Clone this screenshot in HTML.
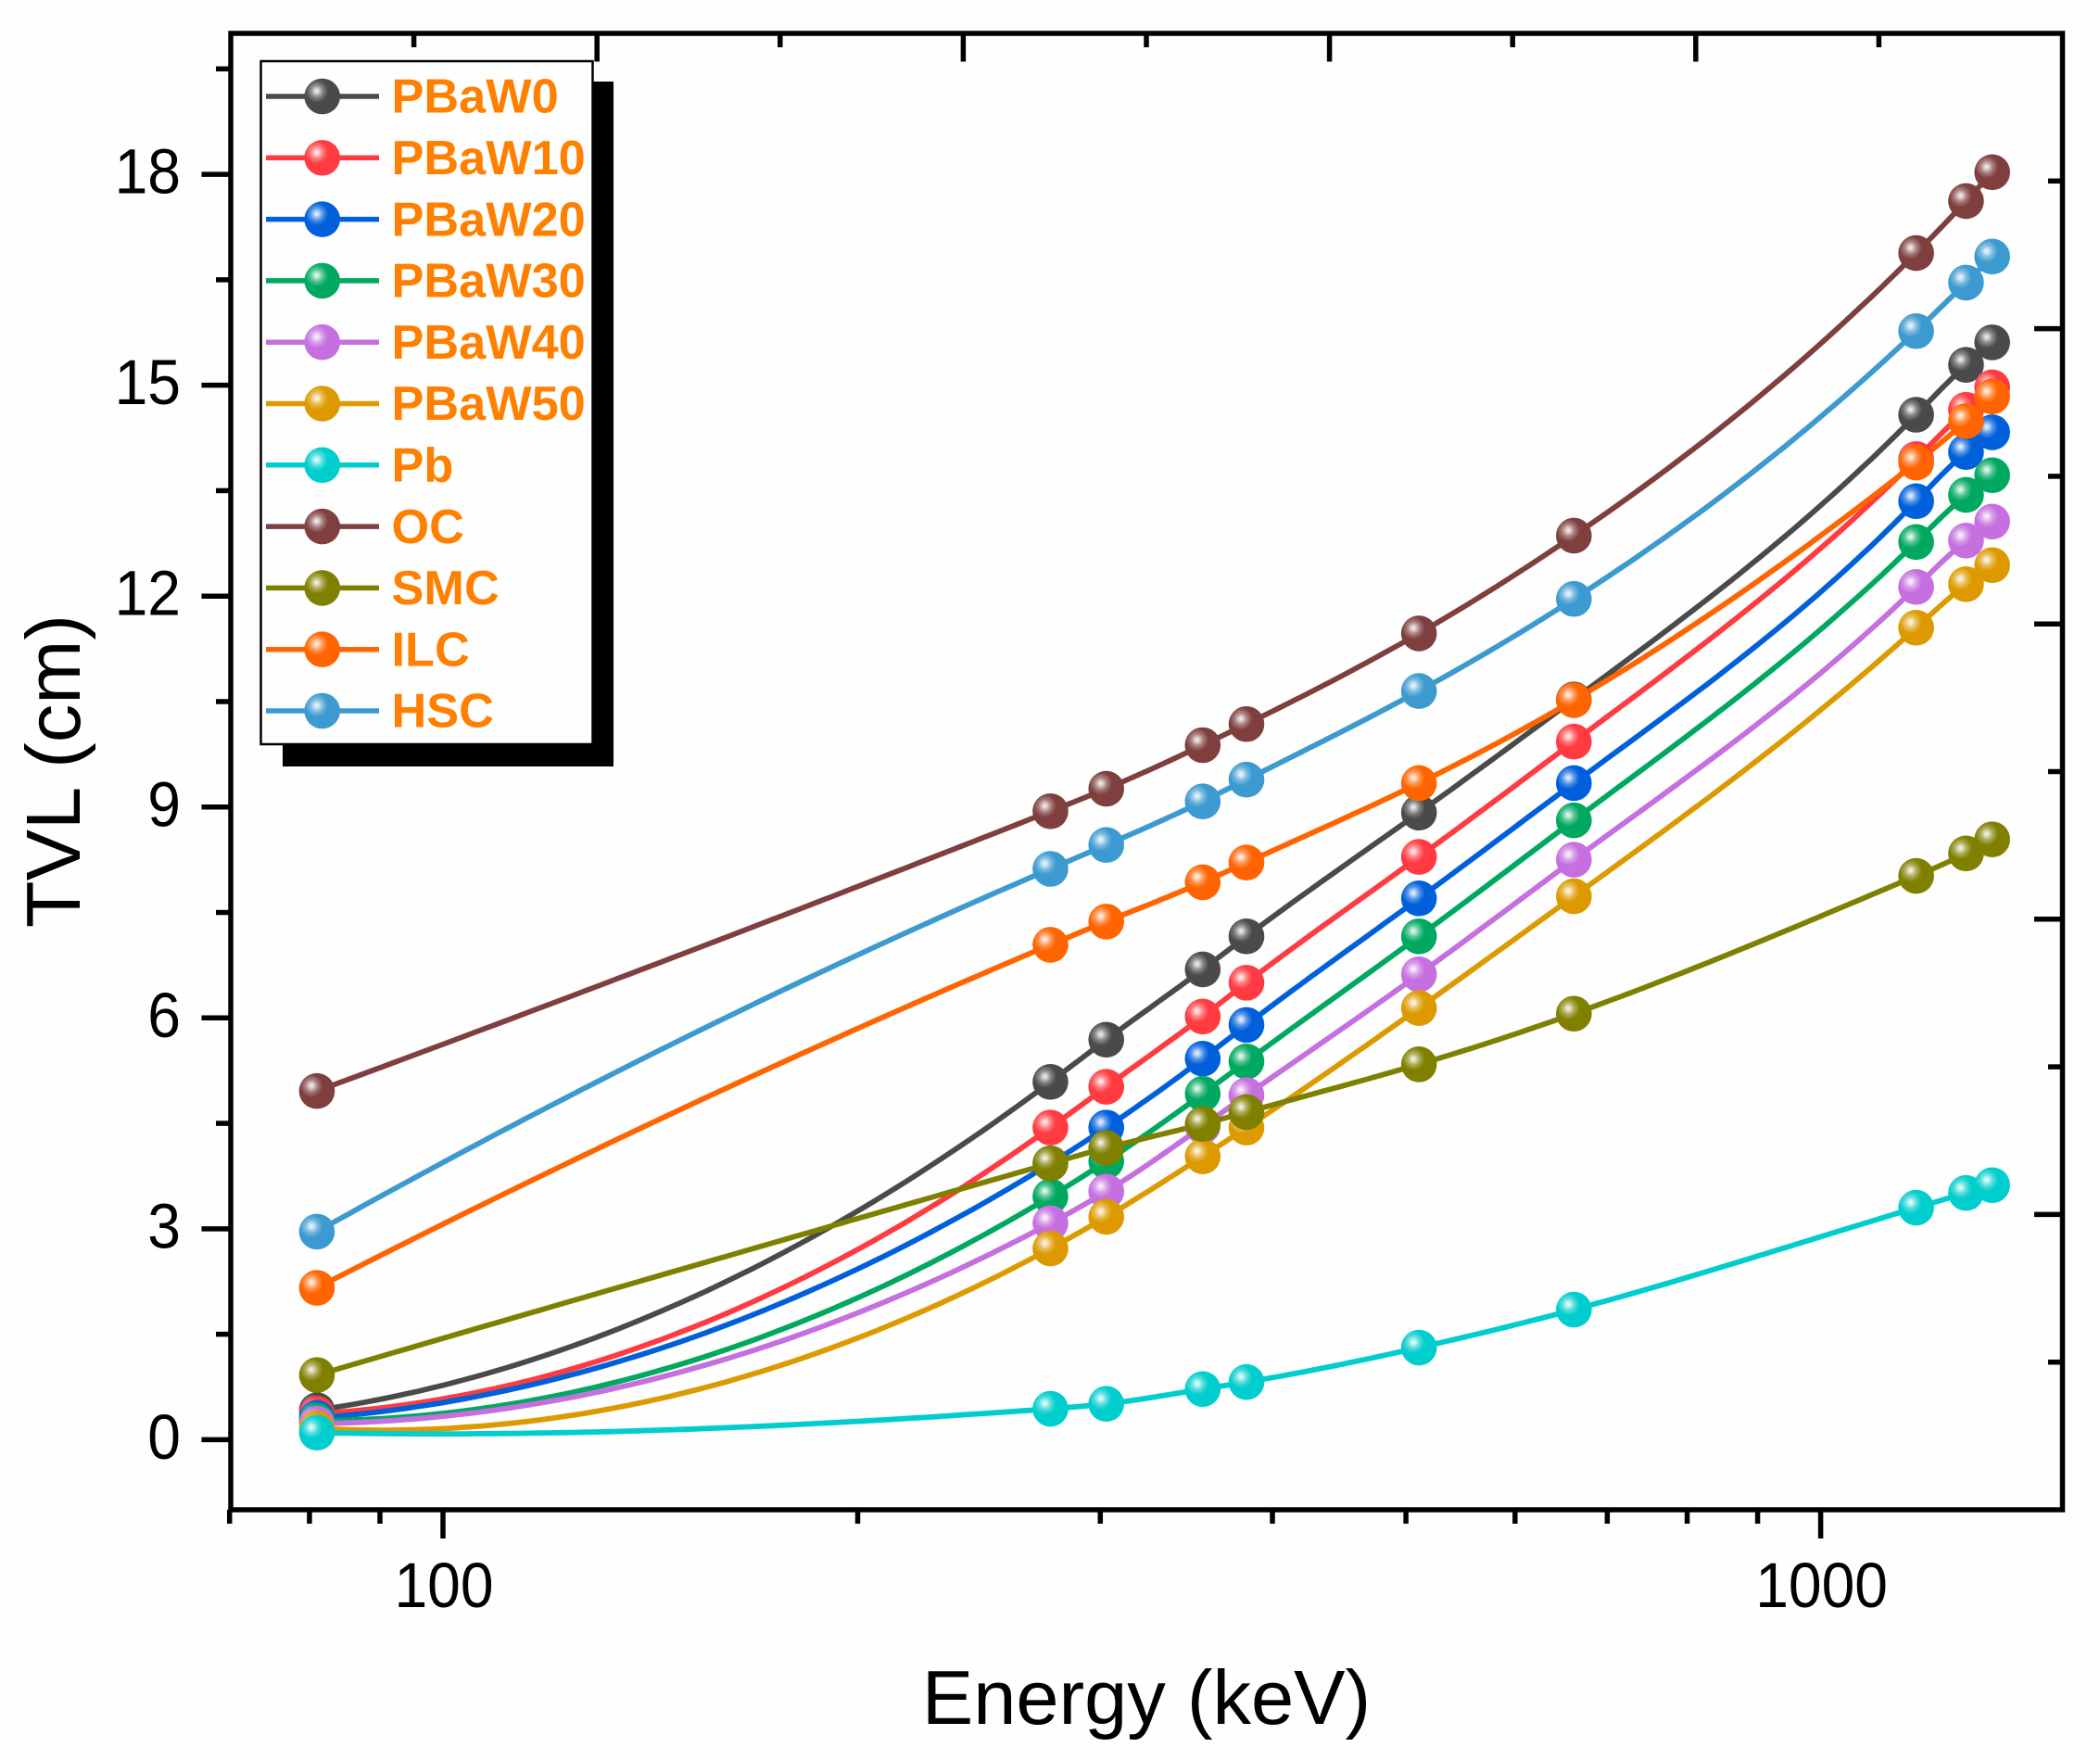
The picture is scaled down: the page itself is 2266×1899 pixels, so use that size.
<!DOCTYPE html>
<html lang="en">
<head>
<meta charset="utf-8">
<title>TVL vs Energy</title>
<style>
html,body{margin:0;padding:0;background:#fdfefd;}
svg{display:block;font-family:"Liberation Sans",Arial,sans-serif;}
</style>
</head>
<body>
<svg id="chart" xmlns="http://www.w3.org/2000/svg" width="2266" height="1899" viewBox="0 0 2266 1899">
  <rect x="0" y="0" width="2266" height="1899" fill="#fdfefd"/>
  <defs id="gradients"></defs>
  <g id="ticks"></g>
  <g id="lines"></g>
  <g id="markers"></g>
  <rect x="249" y="36" width="1976.5" height="1593" fill="none" stroke="#000" stroke-width="5.5"/>
  <g id="tick-labels" font-size="69" fill="#000"></g>
  <text x="1237" y="1860" font-size="83" text-anchor="middle" fill="#000">Energy (keV)</text>
  <text transform="translate(86,832) rotate(-90)" font-size="83" text-anchor="middle" fill="#000">TVL (cm)</text>
  <g id="legend">
    <rect x="305" y="88" width="357" height="739" fill="#000"/>
    <rect x="281.5" y="66" width="358" height="737" fill="#fdfefd" stroke="#000" stroke-width="2.5"/>
  </g>
</svg>
<script>
const energies = [81, 276, 303, 356, 383, 511, 662, 1173, 1275, 1332];
const tvlPBaW0  = [0.42, 5.09, 5.69, 6.69, 7.16, 8.92, 10.53, 14.58, 15.29, 15.61];
const tvlPBaW10 = [0.37, 4.44, 5.02, 6.02, 6.50, 8.29, 9.93, 13.95, 14.65, 14.97];
const tvlPBaW20 = [0.31, 3.93, 4.44, 5.42, 5.90, 7.70, 9.34, 13.35, 14.05, 14.33];
const tvlPBaW30 = [0.27, 3.46, 3.96, 4.92, 5.38, 7.16, 8.81, 12.77, 13.44, 13.72];
const tvlPBaW40 = [0.23, 3.08, 3.53, 4.46, 4.90, 6.62, 8.25, 12.13, 12.79, 13.06];
const tvlPBaW50 = [0.16, 2.72, 3.17, 4.03, 4.44, 6.14, 7.73, 11.55, 12.17, 12.44];
const tvlPb     = [0.10, 0.44, 0.51, 0.72, 0.82, 1.31, 1.85, 3.30, 3.51, 3.62];
const tvlOC     = [4.96, 8.94, 9.26, 9.88, 10.18, 11.47, 12.86, 16.88, 17.62, 18.03];
const tvlSMC    = [0.92, 3.93, 4.15, 4.49, 4.66, 5.34, 6.06, 8.02, 8.34, 8.54];
const tvlILC    = [2.16, 7.04, 7.37, 7.93, 8.21, 9.34, 10.52, 13.90, 14.49, 14.84];
const tvlHSC    = [2.96, 8.12, 8.46, 9.08, 9.39, 10.65, 11.96, 15.77, 16.46, 16.83];

const seriesNames = ["PBaW0", "PBaW10", "PBaW20", "PBaW30", "PBaW40", "PBaW50", "Pb", "OC", "SMC", "ILC", "HSC"];
const seriesColors = ["#4a4a4a", "#ff3b41", "#0060dc", "#00a860", "#c56fe0", "#dd9a00", "#00cdcd", "#7f3f3f", "#808000", "#ff6400", "#3c9ad0"];
const seriesValues = [tvlPBaW0, tvlPBaW10, tvlPBaW20, tvlPBaW30, tvlPBaW40, tvlPBaW50, tvlPb, tvlOC, tvlSMC, tvlILC, tvlHSC];
const startCurvature = [1, 1, 1, 1, 1, 1, 2.2, 1, 1, 1, 1];

const xMajorTicks = [100, 1000];
const xMinorTicks = [70, 80, 90, 200, 300, 400, 500, 600, 700, 800, 900];
const yMajorTicks = [0, 3, 6, 9, 12, 15, 18];
const yMinorTicks = [1.5, 4.5, 7.5, 10.5, 13.5, 16.5, 19.5];
const topMajorTicks = [1, 2, 3, 4];
const topMinorTicks = [0.5, 1.5, 2.5, 3.5, 4.5];
const rightMajorTicks = [1, 2, 3, 4];
const rightMinorTicks = [0.5, 1.5, 2.5, 3.5, 4.5];

const NS = "http://www.w3.org/2000/svg";
function xAxis(e) { return 478 + (Math.log10(e) - 2) * 1486.6; }
function yAxis(v) { return 1553.4 - v * 75.85; }
function xTop(u) { return 249 + u * 395.2; }
function yRight(u) { return 1629 - u * 318.6; }

function make(tag, attrs, parent) {
  const el = document.createElementNS(NS, tag);
  for (const k in attrs) el.setAttribute(k, attrs[k]);
  parent.appendChild(el);
  return el;
}
function mix(hex, t) {
  const n = parseInt(hex.slice(1), 16);
  const ch = [n >> 16 & 255, n >> 8 & 255, n & 255].map(c => Math.round(c + (255 - c) * t));
  return "rgb(" + ch.join(",") + ")";
}
/* cubic spline through the data in log-energy space: parabolic run-out at the left end, natural at the right */
function splinePath(xs, ys, ratio) {
  const n = xs.length, h = [], a = [0], b = [1], c = [-ratio], d = [0];
  for (let i = 0; i < n - 1; i++) h.push(xs[i + 1] - xs[i]);
  for (let i = 1; i < n - 1; i++) {
    a.push(h[i - 1]);
    b.push(2 * (h[i - 1] + h[i]));
    c.push(h[i]);
    d.push(6 * ((ys[i + 1] - ys[i]) / h[i] - (ys[i] - ys[i - 1]) / h[i - 1]));
  }
  a.push(0); b.push(1); c.push(0); d.push(0);
  for (let i = 1; i < n; i++) {
    const m = a[i] / b[i - 1];
    b[i] -= m * c[i - 1];
    d[i] -= m * d[i - 1];
  }
  const M = new Array(n).fill(0);
  M[n - 1] = d[n - 1] / b[n - 1];
  for (let i = n - 2; i >= 0; i--) M[i] = (d[i] - c[i] * M[i + 1]) / b[i];
  let path = "M" + xs[0].toFixed(1) + " " + ys[0].toFixed(1);
  for (let i = 0; i < n - 1; i++) {
    const steps = Math.max(4, Math.round(h[i] / 12));
    for (let s = 1; s <= steps; s++) {
      const t = s / steps, A = 1 - t, B = t;
      const val = A * ys[i] + B * ys[i + 1] + ((A * A * A - A) * M[i] + (B * B * B - B) * M[i + 1]) * h[i] * h[i] / 6;
      path += "L" + (xs[i] + t * h[i]).toFixed(1) + " " + val.toFixed(1);
    }
  }
  return path;
}

const defs = document.getElementById("gradients");
const ticksG = document.getElementById("ticks");
const labelsG = document.getElementById("tick-labels");
const linesG = document.getElementById("lines");
const markersG = document.getElementById("markers");
const legendG = document.getElementById("legend");
const tickStyle = { stroke: "#000", "stroke-width": 5.5 };
const digitWidth = 35.7;

function drawTick(x1, y1, x2, y2, name) {
  const t = make("line", Object.assign({ x1: x1, y1: y1, x2: x2, y2: y2 }, tickStyle), ticksG);
  
  
}
xMajorTicks.forEach(function (v) {
  drawTick(xAxis(v), 1629, xAxis(v), 1660, "x-major-tick");
  const s = String(v);
  const label = make("text", { x: xAxis(v) + 1, y: 1734, "text-anchor": "middle", textLength: s.length * digitWidth, lengthAdjust: "spacingAndGlyphs" }, labelsG);
  label.textContent = s;
  
  
});
xMinorTicks.forEach(function (v) { drawTick(xAxis(v), 1629, xAxis(v), 1644, "x-minor-tick"); });
yMajorTicks.forEach(function (v) {
  drawTick(217.5, yAxis(v), 249, yAxis(v), "y-major-tick");
  const s = String(v);
  const label = make("text", { x: 195, y: yAxis(v) + 20.5, "text-anchor": "end", textLength: s.length * digitWidth, lengthAdjust: "spacingAndGlyphs" }, labelsG);
  label.textContent = s;
  
  
});
yMinorTicks.forEach(function (v) { drawTick(233, yAxis(v), 249, yAxis(v), "y-minor-tick"); });
topMajorTicks.forEach(function (u) { drawTick(xTop(u), 36, xTop(u), 66.5, "top-major-tick"); });
topMinorTicks.forEach(function (u) { drawTick(xTop(u), 36, xTop(u), 51, "top-minor-tick"); });
rightMajorTicks.forEach(function (u) { drawTick(2195, yRight(u), 2225.5, yRight(u), "right-major-tick"); });
rightMinorTicks.forEach(function (u) { drawTick(2210, yRight(u), 2225.5, yRight(u), "right-minor-tick"); });

seriesNames.forEach(function (name, idx) {
  const color = seriesColors[idx];
  const grad = make("radialGradient", { id: "sphere" + idx, cx: 0.345, cy: 0.35, r: 0.32, fx: 0.345, fy: 0.35 }, defs);
  make("stop", { offset: "0%", "stop-color": mix(color, 0.95) }, grad);
  make("stop", { offset: "22%", "stop-color": mix(color, 0.72) }, grad);
  make("stop", { offset: "55%", "stop-color": mix(color, 0.32) }, grad);
  make("stop", { offset: "100%", "stop-color": color }, grad);

  const xs = energies.map(xAxis);
  const ys = seriesValues[idx].map(yAxis);
  const line = make("path", { d: splinePath(xs, ys, startCurvature[idx]), fill: "none", stroke: color, "stroke-width": 5.8, "stroke-linejoin": "round" }, linesG);
  
  
});
seriesNames.forEach(function (name, idx) {
  seriesValues[idx].forEach(function (v, i) {
    const dot = make("circle", { cx: xAxis(energies[i]), cy: yAxis(v), r: 19.3, fill: "url(#sphere" + idx + ")" }, markersG);
    
    
  });

  const rowY = 104 + idx * 66.3;
  const row = make("g", {}, legendG);
  
  
  make("line", { x1: 287, y1: rowY, x2: 409, y2: rowY, stroke: seriesColors[idx], "stroke-width": 5.5 }, row);
  make("circle", { cx: 347.7, cy: rowY, r: 19.3, fill: "url(#sphere" + idx + ")" }, row);
  const label = make("text", { x: 422.5, y: rowY + 17.7, "font-size": 52.3, "font-weight": "bold", fill: "#ff8000" }, row);
  label.textContent = name;
});
</script>
</body>
</html>
